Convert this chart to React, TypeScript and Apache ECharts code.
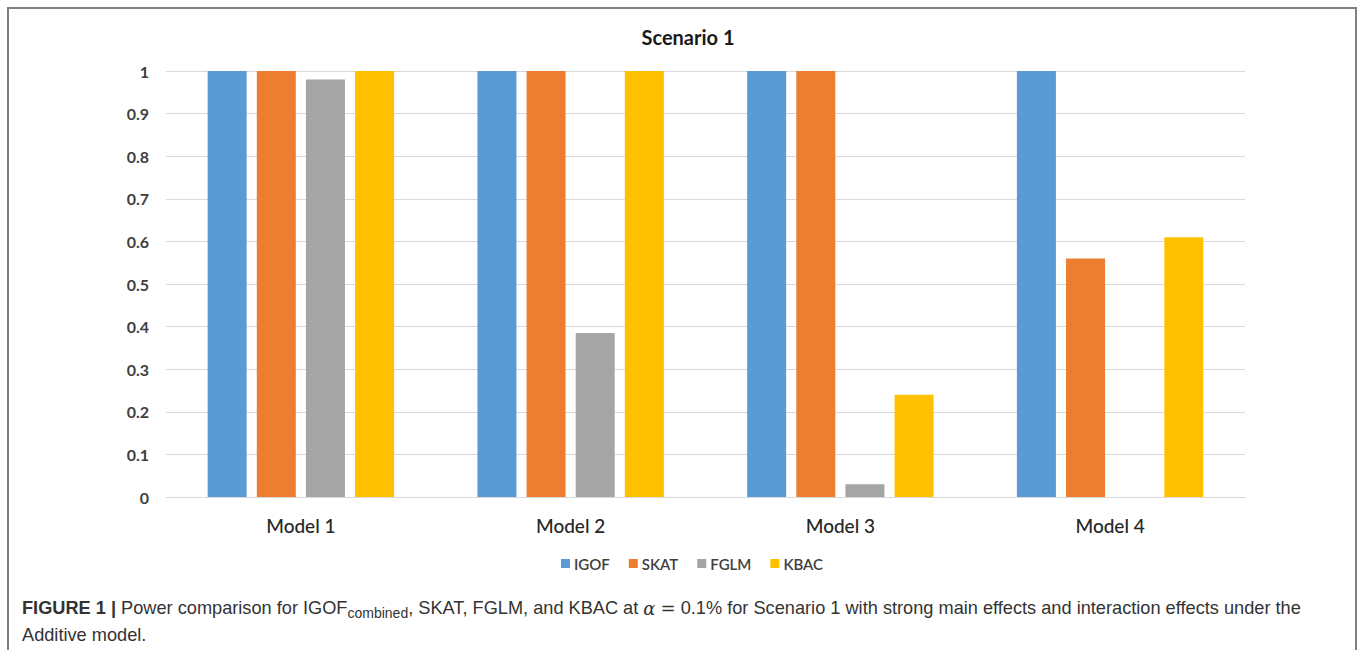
import React, { useEffect, useRef } from "react";
import * as echarts from "echarts";

const categories = ["Model 1", "Model 2", "Model 3", "Model 4"];
const seriesNames = ["IGOF", "SKAT", "FGLM", "KBAC"];
const igof = [1, 1, 1, 1];
const skat = [1, 1, 1, 0.56];
const fglm = [0.98, 0.385, 0.03, 0];
const kbac = [1, 1, 0.24, 0.61];
const colors = ["#5b9bd5", "#ed7d31", "#a5a5a5", "#ffc000"];
const titleText = "Scenario 1";

export default function App() {
  const ref = useRef<HTMLDivElement>(null);
  useEffect(() => {
    if (!ref.current) return;
    const chart = echarts.init(ref.current, undefined, { renderer: "svg" });
    const values = [igof, skat, fglm, kbac];
    const capFont = '"Liberation Sans", Arial, sans-serif';
    chart.setOption({
      animation: false,
      backgroundColor: "#ffffff",
      grid: { left: 166, right: 113, top: 71, bottom: 153, containLabel: false },
      legend: {
        data: seriesNames,
        left: 556,
        top: 551,
        icon: "rect",
        itemWidth: 9,
        itemHeight: 9,
        itemGap: 19,
        textStyle: { fontFamily: "Lato, sans-serif", fontSize: 15, fontWeight: 600, color: "#404040", padding: [0, 0, 0, -1] },
      },
      xAxis: {
        type: "category",
        data: categories,
        axisLine: { show: true, lineStyle: { color: "#d9d9d9" } },
        axisTick: { show: false },
        axisLabel: { fontFamily: "Lato, sans-serif", fontSize: 19, fontWeight: 500, color: "#262626", margin: 19 },
      },
      yAxis: {
        type: "value",
        min: 0,
        max: 1,
        interval: 0.1,
        axisLine: { show: false },
        axisTick: { show: false },
        splitLine: { lineStyle: { color: "#d9d9d9", width: 1 } },
        axisLabel: {
          fontFamily: "Lato, sans-serif",
          fontSize: 16,
          fontWeight: 700,
          color: "#404040",
          margin: 17,
          formatter: (v: number) => String(Math.round(v * 10) / 10),
        },
      },
      series: seriesNames.map((n, i) => ({
        name: n,
        type: "bar",
        data: values[i],
        barWidth: 39,
        barGap: "26%",
        itemStyle: { color: colors[i] },
      })),
      graphic: [
        {
          type: "rect",
          shape: { x: 8, y: 8, width: 1348, height: 700 },
          style: { fill: "none", stroke: "#808080", lineWidth: 2 },
          silent: true,
        },
        {
          type: "text",
          x: 688,
          y: 37,
          style: {
            text: titleText,
            fontFamily: "Lato, sans-serif",
            fontSize: 20,
            fontWeight: 700,
            fill: "#1a1a1a",
            align: "center",
            verticalAlign: "middle",
          },
        },
        {
          type: "text",
          x: 22,
          y: 608,
          style: {
            text: "{b|FIGURE 1 |} Power comparison for IGOF{s|combined}, SKAT, FGLM, and KBAC at {i|α} {m|=} 0.1% for Scenario 1 with strong main effects and interaction effects under the",
            fontFamily: capFont,
            fontSize: 18.2,
            fill: "#333333",
            verticalAlign: "middle",
            rich: {
              b: { fontFamily: capFont, fontSize: 18.2, fontWeight: 700, fill: "#333333" },
              s: { fontFamily: capFont, fontSize: 14, fill: "#333333", padding: [9, 0, 0, 0] },
              i: { fontFamily: '"DejaVu Serif", serif', fontSize: 18, fontStyle: "italic", fill: "#333333" },
              m: { fontFamily: '"DejaVu Serif", serif', fontSize: 18, fill: "#333333" },
            },
          },
        },
        {
          type: "text",
          x: 22,
          y: 635,
          style: {
            text: "Additive model.",
            fontFamily: capFont,
            fontSize: 18.2,
            fill: "#333333",
            verticalAlign: "middle",
          },
        },
      ],
    });
    return () => chart.dispose();
  }, []);
  return <div ref={ref} style={{ position: "absolute", left: 0, top: 0, width: 1358, height: 650 }} />;
}
